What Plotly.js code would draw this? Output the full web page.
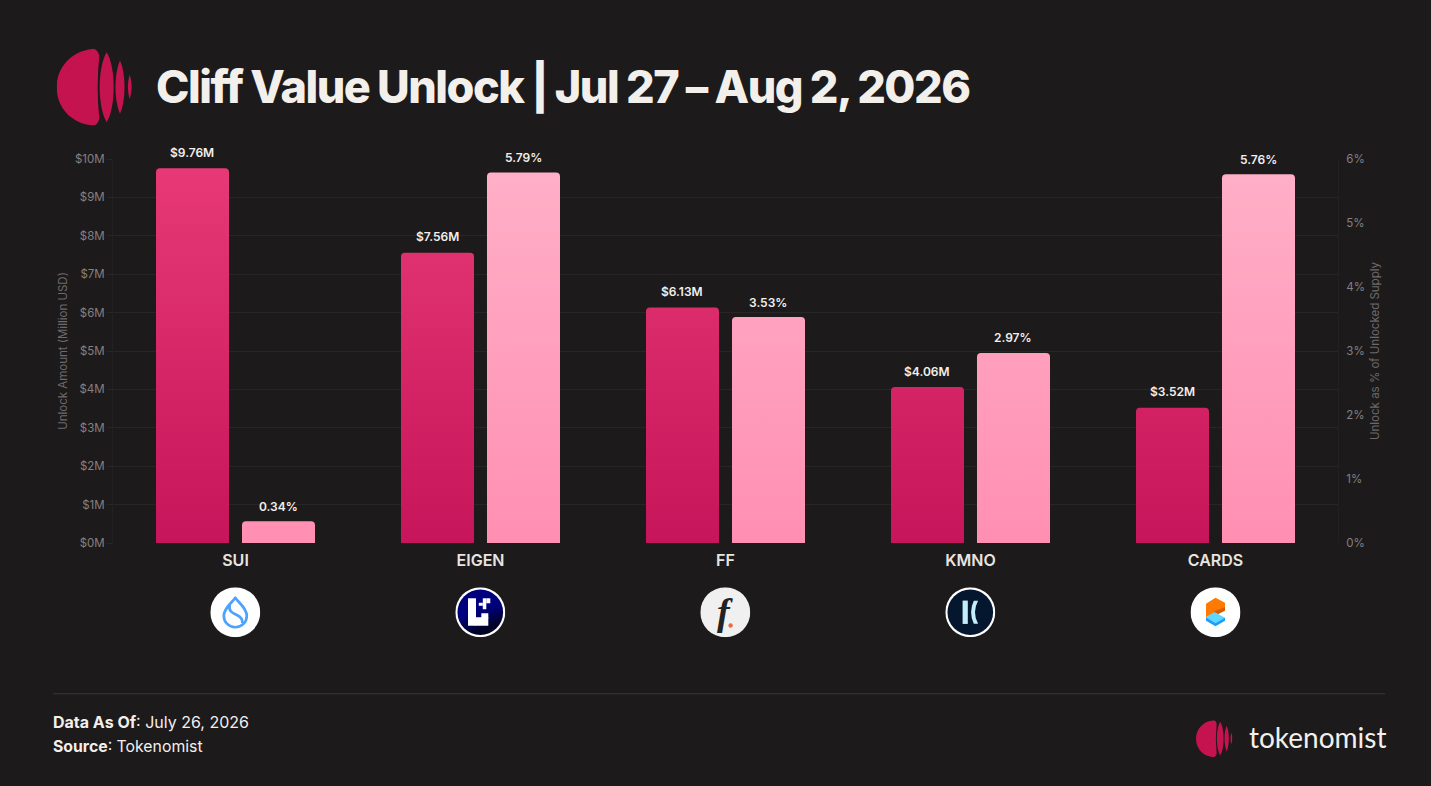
<!DOCTYPE html>
<html>
<head>
<meta charset="utf-8">
<script src="https://cdn.plot.ly/plotly-3.0.1.min.js"></script>
<style>
html,body{margin:0;padding:0;background:#1c1a1b;}
#chart{width:1431px;height:786px;}
.gtitle{letter-spacing:-1.5px;word-spacing:-0.6px;}
</style>
</head>
<body>
<div id="chart"></div>
<script>
const tokens = ['SUI','EIGEN','FF','KMNO','CARDS'];
const unlockUsdM = [9.76,7.56,6.13,4.06,3.52];
const unlockPct = [0.34,5.79,3.53,2.97,5.76];
const usdLabels = ['$9.76M','$7.56M','$6.13M','$4.06M','$3.52M'];
const pctLabels = ['0.34%','5.79%','3.53%','2.97%','5.76%'];
const titleText = 'Cliff Value Unlock | Jul 27 – Aug 2, 2026';

const BG='#1c1a1b', GRID='#282526', TICK='#858081', LIGHT='#f3efeb';
const L=113,R=1338,T=158.6,B=543.4;
const px=x=>(x-L)/(R-L), py=y=>(B-y)/(B-T);
const svgUri=(vb,body)=>'data:image/svg+xml;utf8,'+encodeURIComponent(
  `<svg xmlns="http://www.w3.org/2000/svg" viewBox="${vb}">${body}</svg>`);

const logoSvg=svgUri('50 55 226 230',`<g fill="#c51350">
<path d="M160 55C95 60 50 110 50 170C50 232 95 280 160 285Q172 285 178 265Q168 170 178 75Q172 55 160 55Z"/>
<path d="M200 65C172 110 172 230 200 275C228 230 228 110 200 65Z"/>
<path d="M240 90C222 130 222 210 240 250C258 210 258 130 240 90Z"/>
<path d="M269 133C262 155 262 183 269 205C277 183 277 155 269 133Z"/></g>`);

const icons=[
 svgUri('-25 -25 50 50',`<circle r="25" fill="#fff"/>
  <g fill="none" stroke="#4da2ff" stroke-width="2.7" stroke-linejoin="round">
  <path d="M0 -14.5C-4 -9 -11.5 -4 -11.5 3.5C-11.5 10 -6.5 15 0 15C6.5 15 11.5 10 11.5 3.5C11.5 -4 4 -9 0 -14.5Z"/>
  <path d="M-5.5 -7.5C-7.5 -1 -2 1 2 3C6 5 7.5 7 7 11"/></g>`),
 svgUri('-25 -25 50 50',`<defs><linearGradient id="e" x1="0" y1="0" x2="0.35" y2="1"><stop offset="0.55" stop-color="#00007f"/><stop offset="1" stop-color="#000020"/></linearGradient></defs>
  <circle r="25" fill="#fff"/><circle r="22.8" fill="url(#e)"/>
  <g fill="#fff"><rect x="-12.3" y="-14" width="8" height="27.5"/><rect x="-5" y="5" width="13" height="8.5"/><rect x="1" y="1" width="7" height="5"/>
  <rect x="2.5" y="-14" width="3.5" height="11"/><rect x="-1.5" y="-9.5" width="4" height="3"/><rect x="6" y="-14" width="4" height="5"/></g>`),
 svgUri('-25 -25 50 50',`<circle r="25" fill="#f0f0f0"/><circle cx="5.3" cy="13.3" r="2.2" fill="#f2693a"/>`),
 svgUri('-25 -25 50 50',`<circle r="25" fill="#fff"/><circle r="22.8" fill="#04172e"/>
  <g fill="#c2eefa"><rect x="-7.7" y="-11.7" width="5.2" height="23.4"/><path d="M7.8 -11.5L3.5 -11.5Q-2 0 3.5 11.5L7.8 11.5Q1.5 0 7.8 -11.5Z"/></g>`),
 svgUri('-25 -25 50 50',`<circle r="25" fill="#fff"/>
  <path d="M0 -14.5L9.5 -9.5V-5.5L-9.5 5V-8.5Z" fill="#ff7a00"/><path d="M9.5 -5.5V-1.5L2.5 2L-2 -0.5Z" fill="#d85f05"/>
  <path d="M-9.5 5.5L-1 0.5L9.5 6V8.5L0 14L-9.5 8.5Z" fill="#1f9dfb"/><path d="M-9.5 5L-1 0L9.5 5.5L0 11Z" fill="#5fd8ff"/>`)
];
const iconCenters=[235.3,480.3,725.3,970.3,1215.5];

const images=[
 {source:logoSvg,xref:'paper',yref:'paper',x:px(56.7),y:py(48.3),sizex:75.3/(R-L),sizey:76.7/(B-T),xanchor:'left',yanchor:'top',sizing:'stretch',layer:'above'},
 {source:logoSvg,xref:'paper',yref:'paper',x:px(1196),y:py(721),sizex:36.5/(R-L),sizey:37/(B-T),xanchor:'left',yanchor:'top',sizing:'stretch',layer:'above'}
];
icons.forEach((s,i)=>images.push({source:s,xref:'paper',yref:'paper',x:px(iconCenters[i]),y:py(612.8),sizex:50/(R-L),sizey:50/(B-T),xanchor:'center',yanchor:'middle',sizing:'stretch',layer:'above'}));

const labelFont={family:'Inter, sans-serif',size:12,color:LIGHT,weight:600};
const annotations=[];
tokens.forEach((t,i)=>{
 annotations.push({x:t,y:unlockUsdM[i],xref:'x',yref:'y',text:usdLabels[i],showarrow:false,xshift:-43.5,yshift:16,yanchor:'middle',font:labelFont});
 annotations.push({x:t,y:unlockPct[i],xref:'x',yref:'y2',text:pctLabels[i],showarrow:false,xshift:42.5,yshift:15,yanchor:'middle',font:labelFont});
});
const note=(x,y,text,font,anchor)=>({xref:'paper',yref:'paper',x:px(x),y:py(y),text,showarrow:false,xanchor:anchor||'left',yanchor:'middle',font});
annotations.push(
 note(51,723,'<b>Data As Of</b>: July 26, 2026',{family:'Inter, sans-serif',size:16,color:LIGHT}),
 note(51,747,'<b>Source</b>: Tokenomist',{family:'Inter, sans-serif',size:15.8,color:LIGHT}),
 note(1247,738,'tokenomist',{family:'Lato, sans-serif',size:28,color:LIGHT}),
 note(724.5,612.5,'f',{family:'"Liberation Serif", serif',size:38,style:'italic',weight:700,color:'#222'},'center')
);

const traces=[
 {type:'bar',name:'Unlock Amount (Million USD)',x:tokens,y:unlockUsdM,yaxis:'y',offsetgroup:'a',alignmentgroup:'g',marker:{color:'#d92a68',line:{width:0}},hoverinfo:'x+y'},
 {type:'bar',name:'Unlock as % of Unlocked Supply',x:tokens,y:unlockPct,yaxis:'y2',offsetgroup:'b',alignmentgroup:'g',marker:{color:'#ff9fbe',line:{width:0}},hoverinfo:'x+y'}
];

const tickFont={family:'Inter, sans-serif',size:11.5,color:TICK};
const titleFont={family:'Inter, sans-serif',size:11.5,color:'#6e696a'};
const layout={
 width:1431,height:786,paper_bgcolor:BG,plot_bgcolor:BG,showlegend:false,
 margin:{l:L,r:1431-R,t:T,b:786-B,pad:0},
 barmode:'group',bargap:0.298,bargroupgap:0.151,barcornerradius:4,
 title:{text:titleText,x:156/1431,xanchor:'left',xref:'container',y:1-87/786,yanchor:'middle',yref:'container',font:{family:'Inter, sans-serif',size:45,weight:800,color:LIGHT}},
 xaxis:{type:'category',categoryorder:'array',categoryarray:tokens,showgrid:false,zeroline:false,showline:false,ticks:'',tickfont:{family:'Inter, sans-serif',size:16,weight:600,color:'#e8e4e0'},ticklabelstandoff:6},
 yaxis:{range:[0,10],dtick:1,tickprefix:'$',ticksuffix:'M',tickfont:tickFont,gridcolor:GRID,gridwidth:1,zeroline:false,showline:true,linecolor:'#242122',ticks:'outside',ticklen:5,tickcolor:GRID,
   title:{text:'Unlock Amount (Million USD)',font:titleFont,standoff:4}},
 yaxis2:{range:[0,6],dtick:1,overlaying:'y',side:'right',ticksuffix:'%',tickfont:tickFont,ticklabelstandoff:5,showgrid:false,zeroline:false,showline:true,linecolor:'#242122',ticks:'',
   title:{text:'Unlock as % of Unlocked Supply',font:titleFont,standoff:6}},
 shapes:[{type:'line',xref:'paper',yref:'paper',x0:px(53),x1:px(1385),y0:py(694.5),y1:py(694.5),line:{color:'#3a3738',width:1}}],
 images,annotations
};

Plotly.newPlot('chart',traces,layout,{displayModeBar:false,staticPlot:true}).then(gd=>{
 const svg=gd.querySelector('.main-svg');
 const defs=svg.querySelector('defs')||svg.insertBefore(document.createElementNS('http://www.w3.org/2000/svg','defs'),svg.firstChild);
 const mk=(id,a,b)=>{
  const g=document.createElementNS('http://www.w3.org/2000/svg','linearGradient');
  g.setAttribute('id',id);g.setAttribute('gradientUnits','userSpaceOnUse');
  g.setAttribute('x1',0);g.setAttribute('x2',0);g.setAttribute('y1',0);g.setAttribute('y2',B-T);
  [[0,a],[1,b]].forEach(([o,c])=>{const s=document.createElementNS('http://www.w3.org/2000/svg','stop');s.setAttribute('offset',o);s.setAttribute('stop-color',c);g.appendChild(s);});
  defs.appendChild(g);
 };
 mk('gradUsd','#e83a76','#c6155a');
 mk('gradPct','#ffb0c8','#ff8fb3');
 const groups=gd.querySelectorAll('.barlayer .trace.bars');
 groups.forEach((g,i)=>g.querySelectorAll('.point path').forEach(p=>{p.style.fill=`url(#${i===0?'gradUsd':'gradPct'})`;}));
});
</script>
</body>
</html>
